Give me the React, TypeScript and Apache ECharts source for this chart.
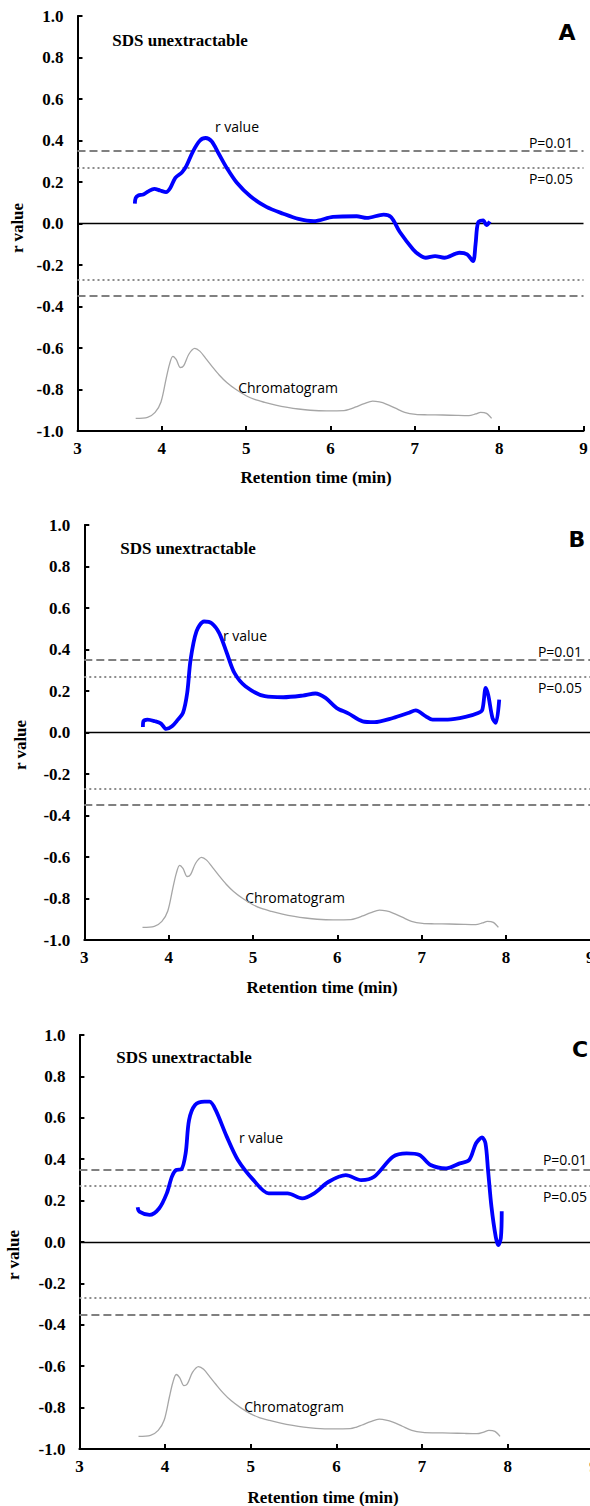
import React, { useEffect, useRef } from "react";
import * as echarts from "echarts";

// ---------- data ----------
const xTicks = [3, 4, 5, 6, 7, 8, 9];
const yTicks = [-1, -0.8, -0.6, -0.4, -0.2, 0, 0.2, 0.4, 0.6, 0.8, 1];
const thresholdP01 = 0.35;
const thresholdP05 = 0.27;

const chromTime = [3.69, 3.83, 3.92, 3.99, 4.05, 4.09, 4.13, 4.17, 4.22, 4.26, 4.32, 4.39, 4.45, 4.52, 4.59, 4.68, 4.77, 4.88, 5.0, 5.1, 5.22, 5.35, 5.49, 5.62, 5.76, 5.95, 6.16, 6.23, 6.3, 6.4, 6.5, 6.58, 6.66, 6.77, 6.88, 7.01, 7.15, 7.33, 7.5, 7.64, 7.72, 7.78, 7.85, 7.91];
const chromValue = [-0.939, -0.934, -0.91, -0.86, -0.75, -0.68, -0.64, -0.655, -0.694, -0.685, -0.63, -0.602, -0.615, -0.65, -0.686, -0.73, -0.766, -0.8, -0.83, -0.848, -0.862, -0.875, -0.886, -0.894, -0.9, -0.903, -0.902, -0.895, -0.884, -0.868, -0.856, -0.86, -0.87, -0.89, -0.91, -0.92, -0.922, -0.923, -0.925, -0.926, -0.918, -0.91, -0.915, -0.939];

const rATime = [3.68, 3.69, 3.72, 3.78, 3.84, 3.91, 3.98, 4.05, 4.1, 4.16, 4.24, 4.29, 4.37, 4.45, 4.52, 4.59, 4.67, 4.77, 4.89, 5.05, 5.24, 5.44, 5.62, 5.8, 6.03, 6.31, 6.43, 6.63, 6.72, 6.82, 6.98, 7.05, 7.13, 7.24, 7.35, 7.53, 7.62, 7.69, 7.72, 7.75, 7.81, 7.85, 7.89];
const rAValue = [0.096, 0.123, 0.135, 0.14, 0.155, 0.167, 0.159, 0.151, 0.171, 0.22, 0.247, 0.276, 0.348, 0.399, 0.412, 0.396, 0.34, 0.268, 0.196, 0.131, 0.08, 0.047, 0.022, 0.011, 0.032, 0.035, 0.027, 0.043, 0.03, -0.04, -0.125, -0.15, -0.165, -0.157, -0.165, -0.141, -0.149, -0.181, -0.1, 0.005, 0.015, -0.008, 0.01];

const rBTime = [3.695, 3.7, 3.75, 3.84, 3.91, 3.97, 4.04, 4.11, 4.17, 4.22, 4.26, 4.33, 4.42, 4.51, 4.6, 4.69, 4.78, 4.91, 5.14, 5.36, 5.59, 5.74, 5.86, 5.99, 6.13, 6.3, 6.44, 6.66, 6.84, 6.93, 7.05, 7.13, 7.31, 7.52, 7.67, 7.72, 7.76, 7.79, 7.84, 7.88, 7.92];
const rBValue = [0.027, 0.054, 0.062, 0.054, 0.043, 0.017, 0.03, 0.062, 0.094, 0.19, 0.35, 0.487, 0.535, 0.527, 0.479, 0.383, 0.287, 0.223, 0.175, 0.17, 0.178, 0.188, 0.167, 0.119, 0.092, 0.054, 0.05, 0.07, 0.094, 0.107, 0.078, 0.062, 0.062, 0.075, 0.094, 0.11, 0.215, 0.18, 0.07, 0.046, 0.158];

const rCTime = [3.68, 3.7, 3.82, 3.93, 4.02, 4.08, 4.13, 4.19, 4.24, 4.28, 4.35, 4.46, 4.52, 4.59, 4.72, 4.85, 5.03, 5.21, 5.43, 5.6, 5.74, 5.91, 6.11, 6.29, 6.44, 6.66, 6.82, 6.97, 7.1, 7.28, 7.44, 7.55, 7.63, 7.7, 7.74, 7.77, 7.81, 7.86, 7.89, 7.92, 7.93];
const rCValue = [0.168, 0.147, 0.131, 0.162, 0.235, 0.316, 0.348, 0.351, 0.428, 0.589, 0.662, 0.678, 0.678, 0.638, 0.509, 0.396, 0.3, 0.235, 0.235, 0.211, 0.235, 0.291, 0.323, 0.299, 0.315, 0.412, 0.428, 0.42, 0.372, 0.356, 0.38, 0.396, 0.477, 0.505, 0.477, 0.348, 0.17, 0.025, -0.015, 0.02, 0.149];

const panelLetters = ["A", "B", "C"];
const panelTitle = "SDS unextractable";
const xAxisTitle = "Retention time (min)";
const yAxisTitle = "r value";
const rLabel = "r value";
const chromLabel = "Chromatogram";
const p01Label = "P=0.01";
const p05Label = "P=0.05";

// ---------- layout ----------
const panels = [
  {
    time: rATime, value: rAValue,
    grid: { left: 77.5, top: 16, width: 506, height: 415 },
    pos: { sds: [180, 40], letter: [567, 32], r: [237, 126], chrom: [288, 387], p01: [573, 142], p05: [573, 178], xt: [316, 477], yt: [17, 228] },
  },
  {
    time: rBTime, value: rBValue,
    grid: { left: 84.3, top: 525, width: 506, height: 415 },
    pos: { sds: [188, 548], letter: [577, 539], r: [245, 635], chrom: [295, 897], p01: [582, 651], p05: [582, 687], xt: [322, 987], yt: [20, 745] },
  },
  {
    time: rCTime, value: rCValue,
    grid: { left: 79.4, top: 1035, width: 514, height: 414 },
    pos: { sds: [184, 1057], letter: [580, 1049], r: [261, 1137], chrom: [294, 1406], p01: [587, 1159], p05: [587, 1196], xt: [323, 1497], yt: [13, 1255] },
  },
];

const SERIF = "'Liberation Serif', 'Times New Roman', serif";
const SANS = "'Open Sans', 'Noto Sans', sans-serif";

function txt(text: string, x: number, y: number, font: string, align: string, extra: any = {}) {
  return {
    type: "text",
    x,
    y,
    silent: true,
    ...extra,
    style: {
      text,
      x: 0,
      y: 0,
      font,
      fill: "#000",
      align,
      verticalAlign: "middle",
      textAlign: align,
      textVerticalAlign: "middle",
    },
  };
}

export default function App() {
  const ref = useRef<HTMLDivElement>(null);

  useEffect(() => {
    if (!ref.current) return;
    const chart = echarts.init(ref.current, undefined, { renderer: "svg" });

    const grids: any[] = [];
    const xAxes: any[] = [];
    const yAxes: any[] = [];
    const series: any[] = [];
    const graphics: any[] = [];

    panels.forEach((p, i) => {
      grids.push({ ...p.grid, containLabel: false, outerBoundsMode: "none" });
      xAxes.push({
        type: "value",
        gridIndex: i,
        min: xTicks[0],
        max: xTicks[xTicks.length - 1],
        interval: 1,
        axisLine: { show: true, onZero: false, lineStyle: { color: "#000", width: 2 } },
        axisTick: { show: true, inside: true, length: 5, lineStyle: { color: "#000", width: 2 } },
        axisLabel: { fontFamily: SERIF, fontWeight: "bold", fontSize: 17, color: "#000", margin: 9, hideOverlap: false },
        splitLine: { show: false },
      });
      yAxes.push({
        type: "value",
        gridIndex: i,
        min: yTicks[0],
        max: yTicks[yTicks.length - 1],
        interval: 0.2,
        axisLine: { show: true, lineStyle: { color: "#000", width: 2 } },
        axisTick: { show: true, inside: true, length: 5, lineStyle: { color: "#000", width: 2 } },
        axisLabel: {
          fontFamily: SERIF, fontWeight: "bold", fontSize: 17, color: "#000", margin: 14,
          formatter: (v: number) => (Math.abs(v) < 1e-9 ? "0.0" : v.toFixed(1)),
        },
        splitLine: { show: false },
      });

      series.push({
        type: "line",
        name: chromLabel,
        xAxisIndex: i,
        yAxisIndex: i,
        data: chromTime.map((t, k) => [t, chromValue[k]]),
        showSymbol: false,
        smooth: 0.3,
        lineStyle: { color: "#a6a6a6", width: 1.3 },
        z: 2,
        markLine: {
          silent: true,
          symbol: ["none", "none"],
          label: { show: false },
          data: [
            { yAxis: thresholdP01, lineStyle: { type: [8, 4], color: "#808080", width: 2 } },
            { yAxis: -thresholdP01, lineStyle: { type: [8, 4], color: "#808080", width: 2 } },
            { yAxis: thresholdP05, lineStyle: { type: [2, 3], color: "#8c8c8c", width: 2 } },
            { yAxis: -thresholdP05, lineStyle: { type: [2, 3], color: "#8c8c8c", width: 2 } },
            { yAxis: 0, lineStyle: { type: "solid", color: "#000", width: 1.3 } },
          ],
        },
      });
      series.push({
        type: "line",
        name: rLabel,
        xAxisIndex: i,
        yAxisIndex: i,
        data: p.time.map((t, k) => [t, p.value[k]]),
        showSymbol: false,
        smooth: 0.3,
        lineStyle: { color: "#0000ff", width: 3.8 },
        z: 5,
      });

      const q = p.pos;
      graphics.push(txt(panelTitle, q.sds[0], q.sds[1], `bold 17px ${SERIF}`, "center"));
      graphics.push(txt(panelLetters[i], q.letter[0], q.letter[1], "bold 22px 'DejaVu Sans', Verdana, sans-serif", "center"));
      graphics.push(txt(rLabel, q.r[0], q.r[1], `14px ${SANS}`, "center"));
      graphics.push(txt(chromLabel, q.chrom[0], q.chrom[1], `14px ${SANS}`, "center"));
      graphics.push(txt(p01Label, q.p01[0], q.p01[1], `14px ${SANS}`, "right"));
      graphics.push(txt(p05Label, q.p05[0], q.p05[1], `14px ${SANS}`, "right"));
      graphics.push(txt(xAxisTitle, q.xt[0], q.xt[1], `bold 17px ${SERIF}`, "center"));
      graphics.push(txt(yAxisTitle, q.yt[0], q.yt[1], `bold 17px ${SERIF}`, "center", { rotation: Math.PI / 2 }));
    });

    chart.setOption({
      animation: false,
      backgroundColor: "#fff",
      grid: grids,
      xAxis: xAxes,
      yAxis: yAxes,
      series,
      graphic: { elements: graphics },
    });

    return () => chart.dispose();
  }, []);

  return (
    <div
      ref={ref}
      style={{ position: "absolute", left: 0, top: 0, width: 590, height: 1506, background: "#fff" }}
    />
  );
}
